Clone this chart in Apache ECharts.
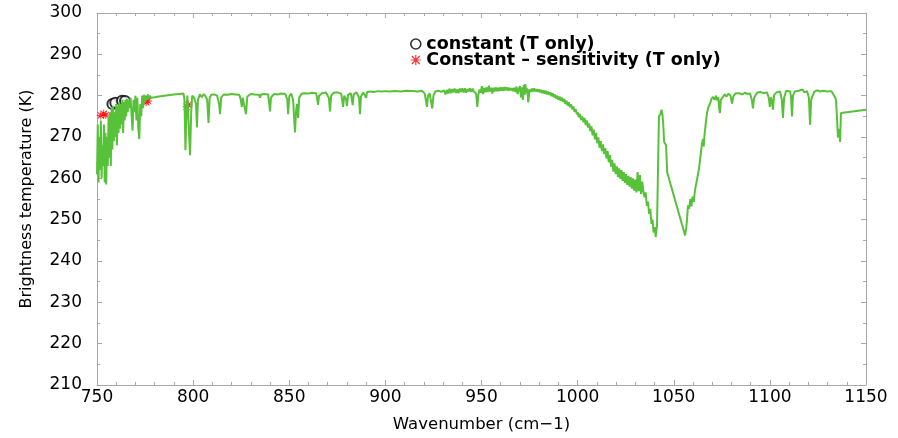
<!DOCTYPE html>
<html>
<head>
<meta charset="utf-8">
<script src="https://cdn.jsdelivr.net/npm/echarts@6/dist/echarts.min.js"></script>
<style>
html,body{margin:0;padding:0;background:#fff;}
#chart{width:898px;height:438px;}
</style>
</head>
<body>
<div id="chart"></div>
<script>
// ---- data (wavenumber cm-1, brightness temperature K) ----
const specWindowLow = [
[750,261],[750.4,273],[750.8,259],[751.2,270],[751.6,262],[752,274],[752.4,260],[752.8,268],[753.2,263],[753.6,273],
[754,259],[754.4,271],[754.8,258.5],[755.2,270],[755.6,263],[756,275],[756.4,265],[756.8,276],[757.2,263],[757.6,277],
[758,267],[758.4,277.5],[758.8,269],[759.2,276],[759.6,270],[760,278],[760.4,268],[760.8,277.5],[761.2,271],[761.6,278.5],
[762,272],[762.4,278],[762.8,273],[763.2,279],[763.6,271],[764,278.5],[764.4,274],[764.8,279],[765.2,275],[765.6,279.2],
[766,276],[766.5,279],[767,277],[767.5,279.5],[768,275],[768.5,271.5],[769,279],[769.5,276],[770,280],[770.5,274],
[771,279.5],[771.5,272],[772,269.5],[772.5,278],[773,275],[773.5,280],[774,277],[774.5,280.2],[775,278.5],[775.5,280],
[776,279],[776.5,280.3],[777,279.2],[777.5,280],[778,279.5],[779,279.8],[780,279.6],[781,280],[782,279.8],[783,280.1],
[790,280.3],[795,280.5],[795.5,279],[796,266.8],[796.5,275],[797,280],[797.5,275],[798.4,265.6],[799,276],[799.5,280]
];
const specWindowMid = [
[800.5,279.5],[801.5,278],[802,272.3],[802.5,279],[803.5,280.3],[804.5,279.6],[805.5,280.4],[806.5,279.8],[807.3,279],[808,273.4],
[808.6,279.5],[809.5,280.2],[811,280.3],[812.5,280],[813.5,278],[814,275.5],[814.6,279.6],[816,280.3],[818,280.2],[820,280.4],
[822,280.3],[824,280.2],[824.8,279],[825.3,277.3],[825.8,279.5],[826.5,279.3],[827.5,275.5],[828.2,279.8],[830,280.4],[832,280.3],
[834.3,280.2],[834.8,279.5],[835.4,280.3],[837,280.4],[839,280.3],[839.6,278],[840,276.2],[840.5,279.5],[842,280.4],[844,280.3],
[846,280.5],[848,280.4],[849,279],[849.4,275.5],[850,279.8],[851,280.5],[852,279],[852.6,274],[853,271.1],[853.5,276],
[854,278],[854.6,274.6],[855.2,279.6],[856.5,280.5],[858,280.6],[860,280.5],[862,280.7],[864,280.6],[864.6,279],[865,277.8],
[865.5,280],[867,280.6],[869,280.8],[870.6,279.5],[871.2,276.2],[871.8,280],[873,280.7],[875,280.8],[877,280.5],[877.5,279],
[878,277.3],[878.6,280],[879.5,279.2],[880,277.5],[880.6,280.2],[882,280.6],[882.6,279],[883,277.7],[883.5,280.3],[885,280.8],
[886.3,279.5],[886.8,275.5],[887.3,279.8],[888.5,280.8],[889.5,280.5],[890,279.5],[890.5,280.9],[892,281],[894,280.9],[896,281.1],
[898,281],[900,281.1]
];
const specWindowHigh = [
[902,281],[905,281.1],[908,281],[911,281.2],[914,281.1],[917,281],[919,281.2],[920.5,280.5],[921.6,277.3],[922.2,280],
[923,280.6],[923.6,279],[924.4,276.9],[925,280],[926,281],[927.5,281.2],[929,280.9],[930.5,281.3],[931.2,280.3],[932,281.4],
[932.6,280.5],[933.3,281.7],[934,280.6],[934.7,281.6],[935.3,280.8],[936,281.7],[936.7,280.7],[937.4,281.5],[938,280.6],[938.7,281.7],
[939.4,280.9],[940,281.8],[940.7,280.8],[941.4,281.8],[942,280.7],[942.7,281.6],[943.4,281],[944,281.8],[944.7,280.9],[945.4,281.7],
[946,281],[947.2,280.5],[947.8,277.3],[948.4,280.3],[949,281.5],[949.6,280.7],[950.2,282.3],[950.8,280.4],[951.4,281.9],[952,280.8],
[952.6,282],[953.2,280.9],[953.8,282.4],[954.4,281],[955,281.9],[955.6,280.5],[956.2,281.9],[956.8,281],[957.4,282],[958,281.1],
[958.6,281.9],[959.2,281.1],[959.8,282],[960.4,281.2],[961,282],[961.6,281.2],[962.2,282.1],[962.8,281.3],[963.4,282],[964,281.2],
[964.6,281.9],[965.2,281.3],[965.8,281.8],[966.4,281.1],[967,281.9],[967.6,280.9],[968.2,282.2],[968.8,280.4],[969.4,281.6],[970,282.3],
[970.5,279.6],[971,282],[971.5,279],[972,282.6],[972.4,280.2],[972.8,282.8],[973.3,280.6],[973.8,281.8],[974.3,278.4],[975,281.5],
[975.6,280.9],[976.2,281.7],[976.8,281],[977.4,281.8],[978,281],[978.6,281.6],[979.2,280.9],[979.8,281.5],[980.4,280.8],[981,281.4],
[981.6,280.6],[982.2,281.3],[982.8,280.5],[983.4,281.2],[984,280.3],[984.6,281],[985.2,280.2],[985.8,280.8],[986.4,279.9],[987,280.6],
[987.6,279.6],[988.2,280.3],[988.8,279.3],[989.4,280],[990,279],[990.6,279.8],[991.2,278.8],[991.8,279.5],[992.4,278.5],[993,279.2],
[993.6,278],[994.2,278.8],[994.8,277.6],[995.4,278.4],[996,277.2],[996.6,277.9],[997.2,276.7],[997.8,277.4],[998.4,276.1],[999,276.8],
[999.6,275.5],[1000,276]
];
const specOzoneBand = [
[1000.6,274.8],[1001.2,275.6],[1001.8,274.1],[1002.4,275],[1003,273.6],[1003.6,274.6],[1004.2,272.9],[1004.8,274],[1005.4,272.3],[1006,273.3],
[1006.6,271.4],[1007.2,272.6],[1007.8,270.4],[1008.4,271.8],[1009,269.4],[1009.6,271],[1010.2,268.5],[1010.8,269.9],[1011.4,267.4],[1012,269],
[1012.6,266.6],[1013.2,268.2],[1013.8,265.9],[1014.4,267.3],[1015,264.8],[1015.6,266.6],[1016.2,263.9],[1016.8,265.6],[1017.4,262.8],[1018,264.5],
[1018.6,261.6],[1019.2,263.6],[1019.8,261],[1020.4,262.9],[1021,260.3],[1021.6,262.4],[1022.2,259.9],[1022.8,262],[1023.4,259.4],[1024,261.5],
[1024.6,258.9],[1025.2,261],[1025.8,258.4],[1026.4,260.6],[1027,258],[1027.6,260.3],[1028.2,257.5],[1028.8,260],[1029.4,257],[1030,259.7],
[1030.6,256.6],[1031.2,261.5],[1031.8,256.9],[1032.4,260.8],[1033,256.2],[1033.6,259.2],[1034.2,256.8],[1034.8,255.4],[1035.4,256.6],[1036,253.3],
[1036.6,254.4],[1037.2,251.4],[1037.8,252.6],[1038.4,249],[1039,250],[1039.5,246.9],[1040.1,248.2],[1040.6,245.8],[1041,247.5],[1041.3,248.6],
[1041.8,262],[1042.3,275],[1043,275.5],[1043.7,276.6],[1044.2,275],[1044.5,273.4],[1045,268.8],[1045.6,268.5],[1046,268],[1046.6,261.4],
[1055.9,246.2],[1056.5,248],[1056.9,250],[1057.4,253.5],[1058,252.6],[1058.6,255],[1059.2,253.2],[1059.8,255.6],[1060.4,254.3],[1061,257],
[1061.6,258.5],[1062,259.4],[1062.6,261],[1063.2,262.5],[1063.6,264.1],[1064.2,266.5],[1064.7,268.5],[1065.2,269.5],[1065.6,267.7],[1066,270.5],
[1066.7,273.5],[1067.3,275.8],[1068,277.2],[1068.9,278.1],[1069.6,279.2],[1070.4,279.7]
];
const specWindowTail = [
[1071.2,279],[1072,280],[1072.5,278.9],[1073.2,279.6],[1073.6,277],[1074,275.8],[1074.5,279],[1075.6,279.7],[1076.5,280.3],[1077.5,279.8],
[1078.5,280.5],[1079.5,280],[1080.3,278.1],[1081,279.8],[1082,280.5],[1082.9,280.2],[1084,280.6],[1085.5,280.3],[1087,280.7],[1088.5,280.4],
[1089.7,280.5],[1090.6,279],[1091.2,276.9],[1091.8,279.5],[1093.3,280.7],[1095,280.9],[1096.5,280.6],[1098.5,280.8],[1099.4,279.5],[1100,277.3],
[1100.6,279.6],[1101,279],[1101.6,276.6],[1102.2,280.2],[1103.5,280.8],[1105.3,281],[1106.2,279],[1106.8,274.6],[1107.4,279.5],[1108.5,281.2],
[1110.5,281],[1111,279.8],[1111.5,275],[1112,280],[1113,281],[1115,281.2],[1117,281.5],[1118,280.8],[1119.3,281.1],[1120.3,279.5],
[1120.9,273],[1121.5,279],[1122.4,280.2],[1123.2,281],[1124.5,281.3],[1126,281],[1128,281.2],[1130,281],[1132,281.1],[1133,280.7],
[1134,279.5],[1134.4,278.9],[1135,274],[1135.4,269.9],[1136,272],[1136.5,268.8],[1137,275.8],[1150,276.6]
];
const constantPoints = [[758,278.0],[759.5,278.3],[763,278.8],[764.6,278.7]];
const sensitivityPoints = [[752,275.2],[753.5,275.6],[754.6,275.3],[775.6,278.4],[776.6,278.7],[796.6,277.3],[797.6,277.8]];
const xTicks = {min:750, max:1150, step:50};
const yTicks = {min:210, max:300, step:10};
const legendNames = ['constant (T only)', 'Constant \u2013 sensitivity (T only)'];
const xTitle = 'Wavenumber (cm\u22121)';
const yTitle = 'Brightness temperature (K)';

const spectrum = [].concat(specWindowLow, specWindowMid, specWindowHigh, specOzoneBand, specWindowTail);

const starPath = 'path://M0,4.4L10,4.4L10,5.6L0,5.6Z M4.4,0L5.6,0L5.6,10L4.4,10Z M0.6,1.45L1.45,0.6L9.4,8.55L8.55,9.4Z M8.55,0.6L9.4,1.45L1.45,9.4L0.6,8.55Z';
const FONT = 'DejaVu Sans';
const axisGrey = '#a8a8a8';

function xAxisDef(pos, labels){
  return {
    type:'value', position:pos, min:xTicks.min, max:xTicks.max, interval:xTicks.step,
    axisLine:{show:true, onZero:false, lineStyle:{color:axisGrey, width:1}},
    axisTick:{show:true, inside:true, length:5, lineStyle:{color:axisGrey}},
    minorTick:{show:true, splitNumber:5, length:3, lineStyle:{color:axisGrey}},
    splitLine:{show:false},
    axisLabel:{show:labels, color:'#000', fontFamily:FONT, fontSize:17, margin:4, formatter:function(v){return String(v);}},
    name: labels ? xTitle : '', nameLocation:'middle', nameGap:31,
    nameTextStyle:{color:'#000', fontFamily:FONT, fontSize:16.5}
  };
}
function yAxisDef(pos, labels){
  return {
    type:'value', position:pos, min:yTicks.min, max:yTicks.max, interval:yTicks.step,
    axisLine:{show:true, onZero:false, lineStyle:{color:axisGrey, width:1}},
    axisTick:{show:true, inside:true, length:5, lineStyle:{color:axisGrey}},
    minorTick:{show:true, splitNumber:2, length:3, lineStyle:{color:axisGrey}},
    splitLine:{show:false},
    axisLabel:{show:labels, color:'#000', fontFamily:FONT, fontSize:17, margin:15, formatter:function(v){return String(v);}},
    name: labels ? yTitle : '', nameLocation:'middle', nameGap:62, nameRotate:90,
    nameTextStyle:{color:'#000', fontFamily:FONT, fontSize:16}
  };
}

const chart = echarts.init(document.getElementById('chart'), null, {renderer:'canvas'});
chart.setOption({
  animation:false,
  backgroundColor:'#fff',
  grid:{left:97, right:32, top:13, bottom:40, containLabel:false},
  xAxis:[xAxisDef('bottom', true), xAxisDef('top', false)],
  yAxis:[yAxisDef('left', true), yAxisDef('right', false)],
  legend:{
    orient:'vertical', left:405, top:30, itemWidth:11, itemHeight:10, itemGap:-2,
    textStyle:{color:'#000', fontFamily:FONT, fontWeight:'bold', fontSize:17.5, lineHeight:16},
    data:[
      {name:legendNames[0], icon:'circle', itemStyle:{color:'#fff', borderColor:'#000', borderWidth:1.6}},
      {name:legendNames[1], icon:starPath, itemStyle:{color:'#ff0000', borderWidth:0}}
    ]
  },
  series:[
    {
      name:'spectrum', type:'line', data:spectrum, showSymbol:false, symbol:'none',
      lineStyle:{color:'#58c13a', width:2}, itemStyle:{color:'#58c13a'}, clip:true, z:3
    },
    {
      name:legendNames[0], type:'scatter', data:constantPoints, symbol:'emptyCircle', symbolSize:10,
      itemStyle:{color:'#000', borderColor:'#000', borderWidth:1.5}, z:2
    },
    {
      name:legendNames[1], type:'scatter', data:sensitivityPoints, symbol:starPath, symbolSize:8,
      itemStyle:{color:'#ff0000'}, z:2
    }
  ]
});
</script>
</body>
</html>
